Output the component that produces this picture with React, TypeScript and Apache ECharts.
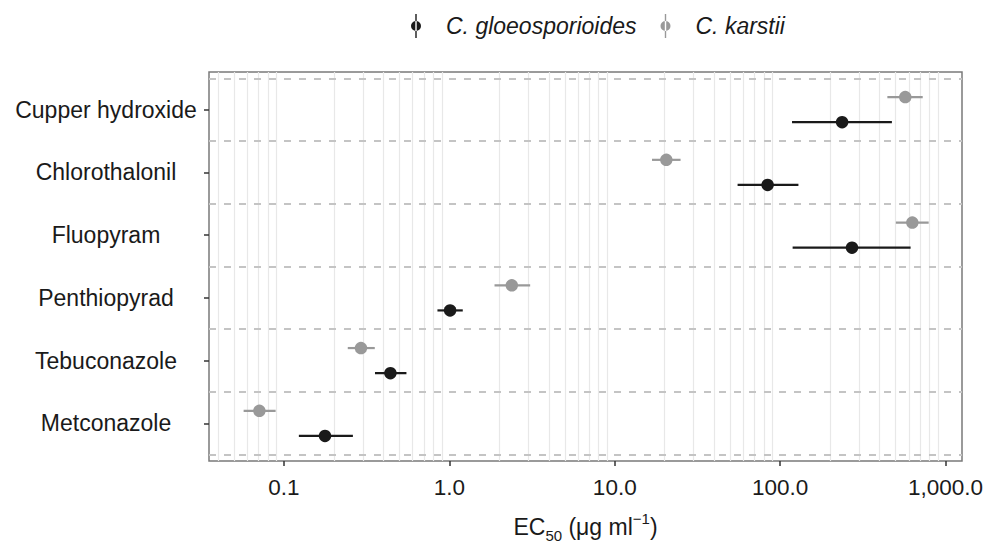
import React, { useEffect, useRef } from "react";
import * as echarts from "echarts";

// Categories from bottom to top
const categories = ["Metconazole", "Tebuconazole", "Penthiopyrad", "Fluopyram", "Chlorothalonil", "Cupper hydroxide"];

// C. gloeosporioides EC50 and interval
const gloeoValue = [0.177, 0.44, 1.01, 272, 84, 237];
const gloeoLow = [0.123, 0.355, 0.847, 119, 55.3, 118];
const gloeoHigh = [0.261, 0.55, 1.205, 615, 129, 474];

// C. karstii EC50 and interval
const karstiiValue = [0.071, 0.292, 2.385, 630, 20.5, 571];
const karstiiLow = [0.057, 0.243, 1.875, 501, 16.8, 445];
const karstiiHigh = [0.089, 0.354, 3.08, 791, 25.0, 728];

// Axis ticks
const xTickValues = [0.1, 1, 10, 100, 1000];
const xTickLabels = ["0.1", "1.0", "10.0", "100.0", "1,000.0"];
const minorMultipliers = [2, 3, 4, 5, 6, 7, 8, 9];
const decades = [0.01, 0.1, 1, 10, 100, 1000];

const X_MIN = 0.0352;
const X_MAX = 1258;
const Y_MIN = -0.6;
const Y_MAX = 5.6;
const OFFSET = 0.2;

const FONT = "'Liberation Sans', Arial, Helvetica, sans-serif";
const BLACK = "#1a1a1a";
const GRAY = "#999999";

const legendIcon =
  "path://M5.3,0 L6.7,0 L6.7,24 L5.3,24 Z M1,12 A5,5 0 1 0 11,12 A5,5 0 1 0 1,12 Z M0,12 L0.01,12 M12,12 L11.99,12";

function buildSeries(
  name: string,
  values: number[],
  lows: number[],
  highs: number[],
  offset: number,
  color: string
) {
  const barData = values.map((_, i) => [lows[i], highs[i], i + offset]);
  const pointData = values.map((v, i) => [v, i + offset]);
  return [
    {
      name: name + " CI",
      type: "custom",
      z: 3,
      silent: true,
      encode: { x: [0, 1], y: 2 },
      data: barData,
      renderItem: (params: any, api: any) => {
        const p1 = api.coord([api.value(0), api.value(2)]);
        const p2 = api.coord([api.value(1), api.value(2)]);
        return {
          type: "line",
          shape: { x1: p1[0], y1: p1[1], x2: p2[0], y2: p2[1] },
          style: { stroke: color, lineWidth: 2.2 },
        };
      },
    },
    {
      name,
      type: "scatter",
      z: 4,
      symbol: "circle",
      symbolSize: 12.5,
      itemStyle: { color, opacity: 1 },
      data: pointData,
    },
  ];
}

export default function App() {
  const ref = useRef<HTMLDivElement>(null);

  useEffect(() => {
    if (!ref.current) return;
    const chart = echarts.init(ref.current, undefined, { renderer: "svg" });

    const minorLines: number[] = [];
    decades.forEach((d) => {
      minorMultipliers.forEach((m) => {
        const v = d * m;
        if (v > X_MIN && v < X_MAX) minorLines.push(v);
      });
    });
    const boundaries = categories.map((_, i) => i - 0.5).concat([categories.length - 0.5]);

    const option: any = {
      animation: false,
      backgroundColor: "#ffffff",
      legend: {
        left: 405,
        top: 9,
        itemWidth: 12,
        itemHeight: 24,
        itemGap: 23,
        data: [
          { name: "C. gloeosporioides", icon: legendIcon },
          { name: "C. karstii", icon: legendIcon },
        ],
        textStyle: {
          fontFamily: FONT,
          fontSize: 23,
          fontStyle: "italic",
          color: BLACK,
          padding: [0, 0, 0, 19],
        },
      },
      grid: {
        left: 209,
        right: 28,
        top: 72,
        bottom: 86,
        show: true,
        borderColor: "#7a7a7a",
        borderWidth: 1.5,
        containLabel: false,
      },
      xAxis: {
        type: "log",
        logBase: 10,
        min: X_MIN,
        max: X_MAX,
        name: "{a|EC}{sub|50}{a| (μg ml}{sup|−1}{a|)}",
        nameLocation: "middle",
        nameGap: 50,
        nameTextStyle: {
          rich: {
            a: { fontFamily: FONT, fontSize: 23, color: BLACK, lineHeight: 32 },
            sub: { fontFamily: FONT, fontSize: 15, color: BLACK, verticalAlign: "bottom" },
            sup: { fontFamily: FONT, fontSize: 15, color: BLACK, verticalAlign: "top" },
          },
        },
        axisLine: { show: false, onZero: false },
        axisTick: {
          show: true,
          length: 5,
          customValues: xTickValues,
          lineStyle: { color: "#333333", width: 1.5 },
        },
        axisLabel: {
          show: true,
          customValues: xTickValues,
          margin: 15,
          fontFamily: FONT,
          fontSize: 22.5,
          color: BLACK,
          formatter: (v: number) => {
            const idx = xTickValues.findIndex((t) => Math.abs(Math.log10(t) - Math.log10(v)) < 1e-6);
            return idx >= 0 ? xTickLabels[idx] : "";
          },
        },
        splitLine: { show: false },
        minorTick: { show: false },
        minorSplitLine: { show: false },
      },
      yAxis: {
        type: "value",
        min: Y_MIN,
        max: Y_MAX,
        axisLine: { show: false, onZero: false },
        axisTick: {
          show: true,
          length: 5,
          customValues: categories.map((_, i) => i),
          lineStyle: { color: "#333333", width: 1.5 },
        },
        axisLabel: {
          show: true,
          customValues: categories.map((_, i) => i),
          margin: 103,
          align: "center",
          fontFamily: FONT,
          fontSize: 23,
          color: BLACK,
          formatter: (v: number) => categories[Math.round(v)] ?? "",
        },
        splitLine: { show: false },
      },
      series: [
        {
          name: "grid-lines",
          type: "scatter",
          data: [],
          silent: true,
          z: 1,
          markLine: {
            silent: true,
            z: 1,
            symbol: ["none", "none"],
            label: { show: false },
            animation: false,
            data: [
              ...minorLines.map((v) => ({
                xAxis: v,
                lineStyle: { color: "#e8e8e8", width: 1.2, type: "solid" },
              })),
              ...boundaries.map((b) => ({
                yAxis: b,
                lineStyle: { color: "#c4c4c4", width: 2, type: [7, 8] },
              })),
            ],
          },
        },
        ...buildSeries("C. gloeosporioides", gloeoValue, gloeoLow, gloeoHigh, -OFFSET, BLACK),
        ...buildSeries("C. karstii", karstiiValue, karstiiLow, karstiiHigh, OFFSET, GRAY),
      ],
    };

    chart.setOption(option);
    return () => chart.dispose();
  }, []);

  return <div ref={ref} style={{ width: 990, height: 548, position: "absolute", left: 0, top: 0 }} />;
}
